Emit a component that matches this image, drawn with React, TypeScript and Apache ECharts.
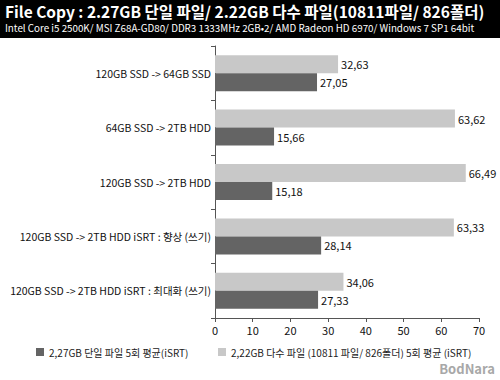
import React, { useEffect, useRef } from "react";
import * as echarts from "echarts";

const categories = [
  "120GB SSD -> 64GB SSD",
  "64GB SSD -> 2TB HDD",
  "120GB SSD -> 2TB HDD",
  "120GB SSD -> 2TB HDD iSRT : 향상 (쓰기)",
  "120GB SSD -> 2TB HDD iSRT : 최대화 (쓰기)",
];
const singleFile = [27.05, 15.66, 15.18, 28.14, 27.33];
const multiFile = [32.63, 63.62, 66.49, 63.33, 34.06];
const seriesNames = [
  "2,27GB 단일 파일 5회 평균(iSRT)",
  "2,22GB 다수 파일 (10811 파일/ 826폴더) 5회 평균 (iSRT)",
];
const titleText = "File Copy : 2.27GB 단일 파일/ 2.22GB 다수 파일(10811파일/ 826폴더)";
const subText =
  "Intel Core i5 2500K/ MSI Z68A-GD80/ DDR3 1333MHz 2GB•2/ AMD Radeon HD 6970/ Windows 7 SP1 64bit";

const FONT = "'Noto Sans CJK KR', 'Noto Sans', sans-serif";

export default function App() {
  const ref = useRef<HTMLDivElement>(null);
  useEffect(() => {
    if (!ref.current) return;
    const chart = echarts.init(ref.current, null, { renderer: "svg" });
    const fmt = (p: any) => Number(p.value).toFixed(2).replace(".", ",");
    const label = {
      show: true,
      position: "right",
      formatter: fmt,
      fontSize: 11,
      color: "#111",
      distance: 3,
    };
    const legendBase = {
      top: 341,
      itemWidth: 8,
      itemHeight: 8,
      icon: "rect",
      textStyle: { fontSize: 10, lineHeight: 12, color: "#222", fontFamily: FONT },
    };
    chart.setOption({
      animation: false,
      backgroundColor: "#ffffff",
      textStyle: { fontFamily: FONT },
      graphic: [
        {
          type: "rect",
          shape: { x: 0, y: 0, width: 500, height: 38 },
          style: { fill: "#000000" },
          z: 0,
        },
        {
          type: "text",
          x: 5,
          y: 3,
          style: {
            text: titleText,
            fill: "#ffffff",
            font: `bold 15.5px ${FONT}`,
          },
          z: 10,
        },
        {
          type: "text",
          x: 5,
          y: 23,
          style: {
            text: subText,
            fill: "#ffffff",
            font: `9.8px ${FONT}`,
          },
          z: 10,
        },
        {
          type: "text",
          right: 5,
          top: 362,
          style: {
            text: "BodNara",
            fill: "#a8a8a8",
            font: `bold 13px ${FONT}`,
            lineHeight: 13,
          },
          z: 10,
        },
      ],
      legend: [
        { ...legendBase, left: 31, data: [seriesNames[0]] },
        { ...legendBase, left: 213, data: [seriesNames[1]] },
      ],
      grid: { left: 215, right: 21, top: 46, bottom: 62 },
      xAxis: {
        type: "value",
        min: 0,
        max: 70,
        interval: 10,
        axisLine: { show: true, lineStyle: { color: "#555" } },
        axisTick: { show: true, length: 4, lineStyle: { color: "#555" } },
        axisLabel: { fontSize: 11, color: "#111", margin: 6 },
        splitLine: { show: false },
      },
      yAxis: {
        type: "category",
        inverse: true,
        data: categories,
        axisLine: { show: true, lineStyle: { color: "#555" } },
        axisTick: { show: true, length: 4, lineStyle: { color: "#555" } },
        axisLabel: { fontSize: 10.5, color: "#111", margin: 4 },
      },
      series: [
        {
          name: seriesNames[1],
          type: "bar",
          data: multiFile,
          barWidth: 18,
          barGap: "0%",
          itemStyle: { color: "#c8c8c8" },
          label,
        },
        {
          name: seriesNames[0],
          type: "bar",
          data: singleFile,
          barWidth: 18,
          barGap: "0%",
          itemStyle: { color: "#646464" },
          label,
        },
      ],
    });
    return () => chart.dispose();
  }, []);
  return (
    <div
      ref={ref}
      style={{ position: "fixed", left: 0, top: 0, width: 500, height: 380 }}
    />
  );
}
